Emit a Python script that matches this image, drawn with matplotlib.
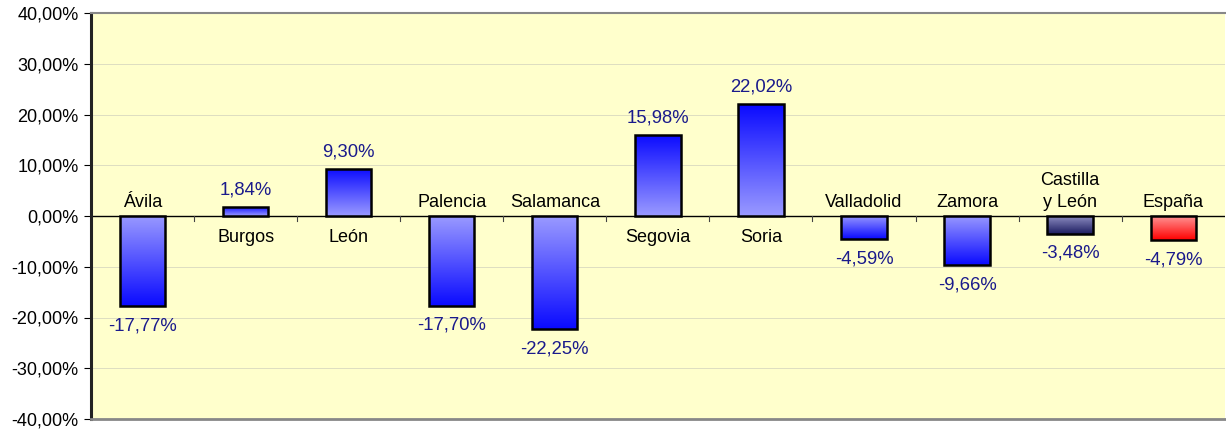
import numpy as np
import matplotlib
matplotlib.use("Agg")
from matplotlib import pyplot as plt
from matplotlib.colors import LinearSegmentedColormap

plt.rcParams['font.family'] = ['Liberation Sans', 'DejaVu Sans']

# data
provincias = ['Ávila', 'Burgos', 'León', 'Palencia', 'Salamanca', 'Segovia',
              'Soria', 'Valladolid', 'Zamora', 'Castilla\ny León', 'España']
variacion = [-17.77, 1.84, 9.30, -17.70, -22.25, 15.98, 22.02, -4.59, -9.66, -3.48, -4.79]
etiquetas = ['-17,77%', '1,84%', '9,30%', '-17,70%', '-22,25%', '15,98%',
             '22,02%', '-4,59%', '-9,66%', '-3,48%', '-4,79%']
yticks = [-40, -30, -20, -10, 0, 10, 20, 30, 40]
ytick_labels = ['-40,00%', '-30,00%', '-20,00%', '-10,00%', '0,00%',
                '10,00%', '20,00%', '30,00%', '40,00%']

# (dark at tip, light at base)
grad_colors = ['blue'] * 9 + ['navy', 'red']
ramps = {
    'blue': ('#0a0aff', '#9a9aff'),
    'navy': ('#1c1c60', '#8c8cc0'),
    'red': ('#ff0000', '#ff9a9a'),
}

fig = plt.figure(figsize=(12.26, 4.30), dpi=100)
ax = fig.add_axes([91 / 1226, 11 / 430, 1 - 91 / 1226 - 0.001, 1 - 11 / 430 - 13 / 430])
ax.set_facecolor('#ffffcc')

x = np.arange(len(provincias))
w = 0.44
bars = ax.bar(x, variacion, width=w, facecolor='none', edgecolor='black',
              linewidth=1.8, zorder=4)

for b, v, c in zip(bars, variacion, grad_colors):
    dark, light = ramps[c]
    cmap = LinearSegmentedColormap.from_list('g', [light, dark])
    grad = np.linspace(0, 1, 256).reshape(-1, 1)
    if v < 0:
        grad = grad[::-1]
    x0 = b.get_x()
    y0, y1 = sorted([0, v])
    im = ax.imshow(grad, cmap=cmap, aspect='auto', origin='lower',
                   extent=[x0, x0 + w, y0, y1], zorder=3)
    im.set_clip_path(b)

# labels
for i, (v, lab, name) in enumerate(zip(variacion, etiquetas, provincias)):
    if v >= 0:
        ax.text(i, v + 1.7, lab, ha='center', va='bottom', color='#1a1a8c', fontsize=13.3)
        ax.text(i, -2.6, name, ha='center', va='top', color='black', fontsize=13)
    else:
        ax.text(i, v - 2.2, lab, ha='center', va='top', color='#1a1a8c', fontsize=13.3)
        ax.text(i, 1.0, name, ha='center', va='bottom', color='black', fontsize=13,
                linespacing=1.4)

ax.axhline(0, color='black', linewidth=1.0, zorder=2)
for xt in np.arange(0.5, len(provincias) - 0.5, 1.0):
    ax.plot([xt, xt], [0, -0.9], color='#444444', linewidth=0.8, zorder=2)

ax.set_xlim(-0.5, len(provincias) - 0.5)
ax.set_ylim(-40, 40)
ax.set_yticks(yticks)
ax.set_yticklabels(ytick_labels, fontsize=13)
ax.set_xticks([])
ax.grid(axis='y', color='#d8d8c0', linewidth=0.6, zorder=0)
ax.set_axisbelow(True)
ax.tick_params(axis='y', length=5, width=0.8, pad=4)

ax.spines['left'].set_linewidth(2.2)
ax.spines['left'].set_color('#222222')
ax.spines['bottom'].set_linewidth(2.0)
ax.spines['bottom'].set_color('#888888')
ax.spines['top'].set_linewidth(1.5)
ax.spines['top'].set_color('#888888')
ax.spines['right'].set_visible(False)

fig.savefig('out.png', dpi=100)
